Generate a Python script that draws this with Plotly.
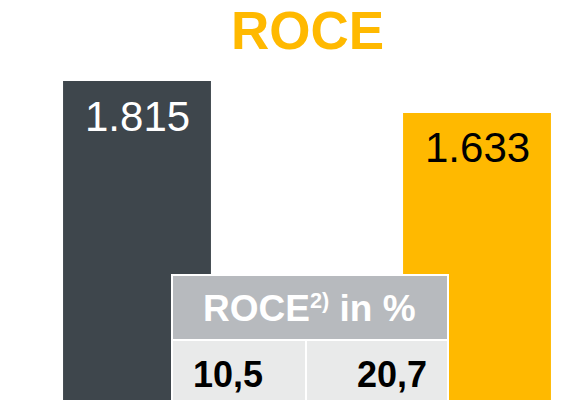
"""ROCE bar pair with a small ROCE-in-percent table overlay."""

import plotly.graph_objects as go

# page has an 8px body margin, so the figure is drawn 8px in from the corner
OFF = 8
W, H = 577 - OFF, 400 - OFF

categories = ["A", "B"]
capital = [1815, 1633]
bar_colors = ["#3e464c", "#ffb900"]
label_colors = ["#ffffff", "#000000"]

table_header = "ROCE<span style='font-size:31px'><sup>2)</sup></span> in %"
roce_pct = ["10,5", "20,7"]

YELLOW = "#ffb900"
HEADER_GREY = "#b7babe"
CELL_GREY = "#e9eaea"
FONT = "Liberation Sans, Arial, sans-serif"


def px_x(p):
    return (p - OFF) / W


def px_y(p):
    return 1 - (p - OFF) / H


def de_num(v):
    return f"{v:,}".replace(",", ".")


fig = go.Figure(go.Bar(
    x=categories,
    y=capital,
    width=0.435,
    marker=dict(color=bar_colors, line=dict(width=0)),
    hoverinfo="skip",
))

# value labels inside bars
for cat, val, col in zip(categories, capital, label_colors):
    fig.add_annotation(
        x=cat, y=val, text=de_num(val), showarrow=False,
        xanchor="center", yanchor="middle", yshift=-35,
        font=dict(family=FONT, size=42, color=col),
    )

# title
fig.add_annotation(
    xref="paper", yref="paper", x=px_x(307), y=px_y(31),
    text="<b>ROCE</b>", showarrow=False, xanchor="center", yanchor="middle",
    font=dict(family=FONT, size=53, color=YELLOW),
)

# table overlay
shapes = [
    dict(type="rect", xref="paper", yref="paper",
         x0=px_x(171), x1=px_x(449), y0=px_y(274), y1=px_y(402),
         fillcolor="#ffffff", line=dict(width=0), layer="above"),
    dict(type="rect", xref="paper", yref="paper",
         x0=px_x(173), x1=px_x(447), y0=px_y(276), y1=px_y(339),
         fillcolor=HEADER_GREY, line=dict(width=0), layer="above"),
    dict(type="rect", xref="paper", yref="paper",
         x0=px_x(173), x1=px_x(305), y0=px_y(341), y1=px_y(402),
         fillcolor=CELL_GREY, line=dict(width=0), layer="above"),
    dict(type="rect", xref="paper", yref="paper",
         x0=px_x(307), x1=px_x(447), y0=px_y(341), y1=px_y(402),
         fillcolor=CELL_GREY, line=dict(width=0), layer="above"),
]

fig.add_annotation(
    xref="paper", yref="paper", x=px_x(310), y=px_y(308),
    text=f"<b>{table_header}</b>", showarrow=False,
    xanchor="center", yanchor="middle",
    font=dict(family=FONT, size=37, color="#ffffff"),
)
fig.add_annotation(
    xref="paper", yref="paper", x=px_x(191), y=px_y(374),
    text=f"<b>{roce_pct[0]}</b>", showarrow=False,
    xanchor="left", yanchor="middle",
    font=dict(family=FONT, size=36, color="#000000"),
)
fig.add_annotation(
    xref="paper", yref="paper", x=px_x(429), y=px_y(374),
    text=f"<b>{roce_pct[1]}</b>", showarrow=False,
    xanchor="right", yanchor="middle",
    font=dict(family=FONT, size=36, color="#000000"),
)

fig.update_layout(
    width=W, height=H,
    margin=dict(l=0, r=0, t=0, b=0),
    paper_bgcolor="#ffffff",
    plot_bgcolor="#ffffff",
    showlegend=False,
    shapes=shapes,
    xaxis=dict(range=[-(137 - OFF) / 340, (577 - 137) / 340],
               visible=False, fixedrange=True),
    yaxis=dict(range=[0, (400 - OFF) * 1815 / (400 - 81)],
               visible=False, fixedrange=True),
)

fig.write_html("out.html", config={"displayModeBar": False})
